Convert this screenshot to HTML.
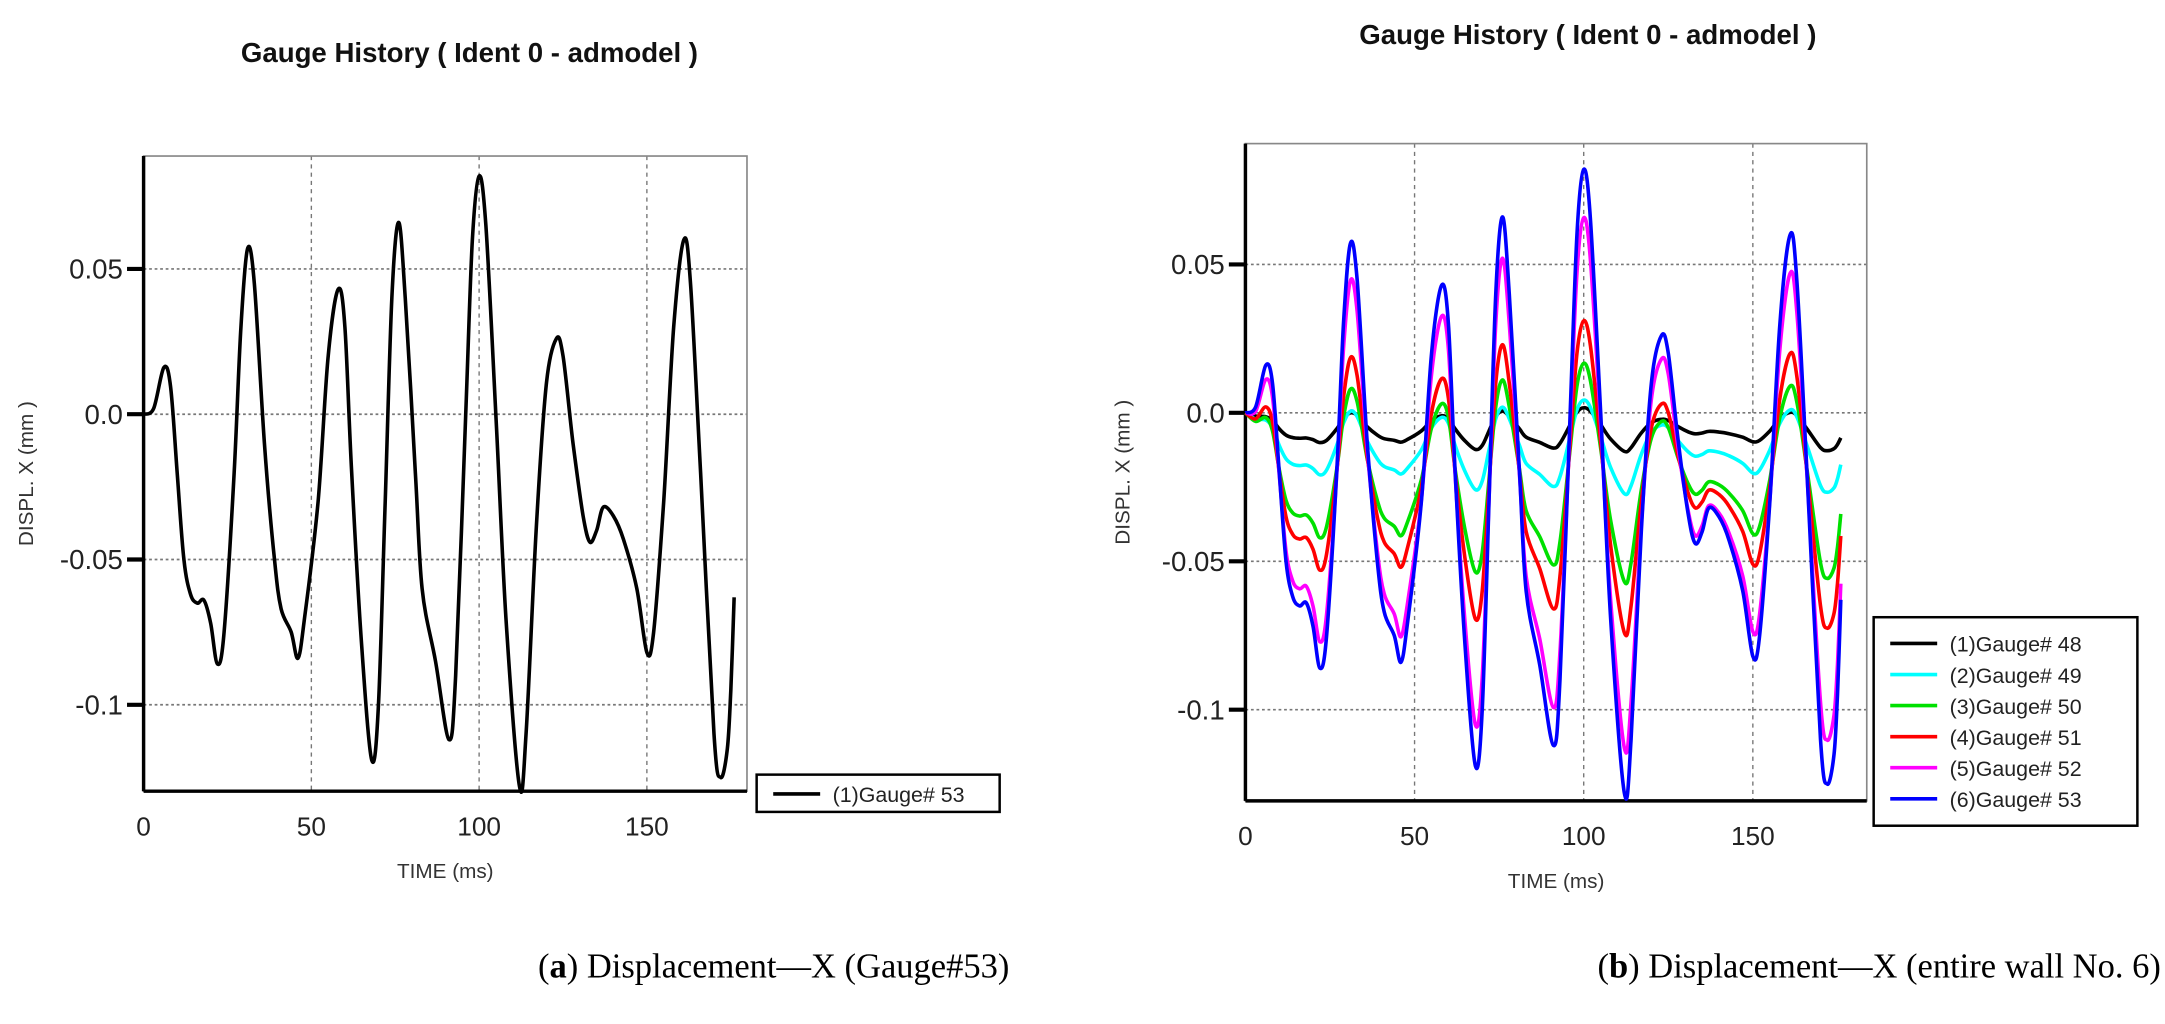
<!DOCTYPE html>
<html><head><meta charset="utf-8"><style>
html,body{margin:0;padding:0;background:#fff;}
body{width:2165px;height:1024px;overflow:hidden;position:relative;}
svg{position:absolute;left:0;top:0;}
</style></head><body>
<svg id="s" width="2165" height="1024" viewBox="0 0 1568 741.6" preserveAspectRatio="none" xmlns="http://www.w3.org/2000/svg" font-family="Liberation Sans, Arial, sans-serif">
<text x="340" y="45" font-size="20" font-weight="bold" text-anchor="middle" fill="#111">Gauge History ( Ident 0 - admodel )</text>
<text x="1150" y="32" font-size="20" font-weight="bold" text-anchor="middle" fill="#111">Gauge History ( Ident 0 - admodel )</text>
<text x="731" y="708" font-size="25" text-anchor="end" font-family="Liberation Serif, serif" fill="#000">(<tspan font-weight="bold">a</tspan>) Displacement—X (Gauge#53)</text>
<text x="1565" y="708" font-size="25" text-anchor="end" font-family="Liberation Serif, serif" fill="#000">(<tspan font-weight="bold">b</tspan>) Displacement—X (entire wall No. 6)</text>
<g id="g1"></g><g id="g2"></g>
</svg>
<script>
var blue=[[0,0],[3,0.002],[6,0.016],[8,0.01],[10,-0.02],[12,-0.05],[14,-0.062],[16,-0.065],[18,-0.064],[20,-0.072],[22,-0.086],[24,-0.075],[27,-0.02],[29,0.03],[31,0.057],[33,0.045],[36,-0.01],[39,-0.05],[41,-0.067],[44,-0.075],[46,-0.084],[48,-0.07],[52,-0.03],[55,0.02],[58,0.043],[60,0.03],[62,-0.02],[65,-0.08],[68,-0.119],[70,-0.1],[72,-0.03],[74,0.04],[76,0.066],[78,0.04],[81,-0.02],[83,-0.06],[87,-0.085],[91,-0.112],[93,-0.09],[96,0],[98,0.06],[100,0.082],[102,0.065],[105,0],[108,-0.07],[112,-0.128],[114,-0.11],[117,-0.04],[120,0.01],[123,0.026],[125,0.02],[128,-0.01],[131,-0.035],[133,-0.044],[135,-0.04],[137,-0.032],[140,-0.035],[143,-0.043],[147,-0.06],[150,-0.082],[152,-0.075],[155,-0.03],[158,0.03],[161,0.06],[163,0.045],[166,-0.02],[170,-0.11],[172,-0.125],[174,-0.115],[175,-0.095],[176,-0.063]];
function derive(a,b){return blue.map(function(p){var r=Math.min(1,p[0]/10);return [p[0],a*p[1]+b*r];});}
function path(d,X,Y){var P=d.map(function(p){return [X(p[0]),Y(p[1])];});var s="M"+P[0][0].toFixed(1)+","+P[0][1].toFixed(1);
for(var i=0;i<P.length-1;i++){var p0=P[Math.max(0,i-1)],p1=P[i],p2=P[i+1],p3=P[Math.min(P.length-1,i+2)];
var c1=[p1[0]+(p2[0]-p0[0])/6,p1[1]+(p2[1]-p0[1])/6],c2=[p2[0]-(p3[0]-p1[0])/6,p2[1]-(p3[1]-p1[1])/6];
s+="C"+c1[0].toFixed(1)+","+c1[1].toFixed(1)+" "+c2[0].toFixed(1)+","+c2[1].toFixed(1)+" "+p2[0].toFixed(1)+","+p2[1].toFixed(1);}return s;}
function chart(gid,o){var g=document.getElementById(gid),h="";
var X=function(t){return o.x0+t*o.sx;},Y=function(v){return o.y0-v*o.sy;};
var L=o.x0,R=o.right,T=o.top,B=o.bottom;
[50,100,150].forEach(function(t){h+='<line x1="'+X(t)+'" y1="'+T+'" x2="'+X(t)+'" y2="'+B+'" stroke="#777" stroke-width="1" stroke-dasharray="3,3"/>';});
[0.05,0,-0.05,-0.1].forEach(function(v){h+='<line x1="'+L+'" y1="'+Y(v)+'" x2="'+R+'" y2="'+Y(v)+'" stroke="#777" stroke-width="1.2" stroke-dasharray="2,2"/>';
h+='<line x1="'+(L-12)+'" y1="'+Y(v)+'" x2="'+L+'" y2="'+Y(v)+'" stroke="#000" stroke-width="3"/>';
h+='<text x="'+(L-15)+'" y="'+(Y(v)+7)+'" font-size="20" text-anchor="end" fill="#222">'+(v==0?"0.0":v)+'</text>';});
[0,50,100,150].forEach(function(t){h+='<text x="'+X(t)+'" y="'+(B+32)+'" font-size="19" text-anchor="middle" fill="#222">'+t+'</text>';});
h+='<text x="'+((L+R)/2)+'" y="'+(B+63)+'" font-size="15" text-anchor="middle" fill="#333">TIME (ms)</text>';
h+='<text transform="translate('+o.ylx+','+((T+B)/2)+') rotate(-90)" font-size="15" text-anchor="middle" fill="#333">DISPL. X (mm )</text>';
h+='<rect x="'+L+'" y="'+T+'" width="'+(R-L)+'" height="'+(B-T)+'" fill="none" stroke="#888" stroke-width="1.2"/>';
h+='<line x1="'+L+'" y1="'+T+'" x2="'+L+'" y2="'+B+'" stroke="#000" stroke-width="2.5"/>';
h+='<line x1="'+L+'" y1="'+B+'" x2="'+R+'" y2="'+B+'" stroke="#000" stroke-width="2.5"/>';
o.series.forEach(function(s){h+='<path d="'+path(s.d,X,Y)+'" fill="none" stroke="'+s.c+'" stroke-width="2.6" stroke-linejoin="round"/>';});
var lg=o.leg;h+='<rect x="'+lg.x+'" y="'+lg.y+'" width="'+lg.w+'" height="'+lg.h+'" fill="#fff" stroke="#000" stroke-width="1.8"/>';
o.series.forEach(function(s,i){var yy=lg.y+lg.y1+i*lg.dy;h+='<line x1="'+(lg.x+12)+'" y1="'+yy+'" x2="'+(lg.x+46)+'" y2="'+yy+'" stroke="'+s.c+'" stroke-width="2.6"/>';
h+='<text x="'+(lg.x+55)+'" y="'+(yy+6)+'" font-size="15.5" fill="#222">'+s.n+'</text>';});
g.innerHTML=h;}
chart("g1",{x0:104,sx:2.43,y0:300,sy:2104,right:541,top:113,bottom:573,ylx:24,
series:[{d:blue,c:"#000",n:"(1)Gauge# 53"}],leg:{x:548,y:561,w:176,h:27,y1:14,dy:0}});
chart("g2",{x0:902,sx:2.45,y0:299,sy:2150,right:1352,top:104,bottom:580,ylx:818,
series:[{d:derive(0.07,-0.004),c:"#000",n:"(1)Gauge# 48"},{d:derive(0.15,-0.008),c:"#00ffff",n:"(2)Gauge# 49"},{d:derive(0.35,-0.012),c:"#00e000",n:"(3)Gauge# 50"},{d:derive(0.5,-0.01),c:"#ff0000",n:"(4)Gauge# 51"},{d:derive(0.85,-0.004),c:"#ff00ff",n:"(5)Gauge# 52"},{d:blue,c:"#0000ff",n:"(6)Gauge# 53"}],
leg:{x:1357,y:447,w:191,h:151,y1:19,dy:22.5}});
</script>
</body></html>
